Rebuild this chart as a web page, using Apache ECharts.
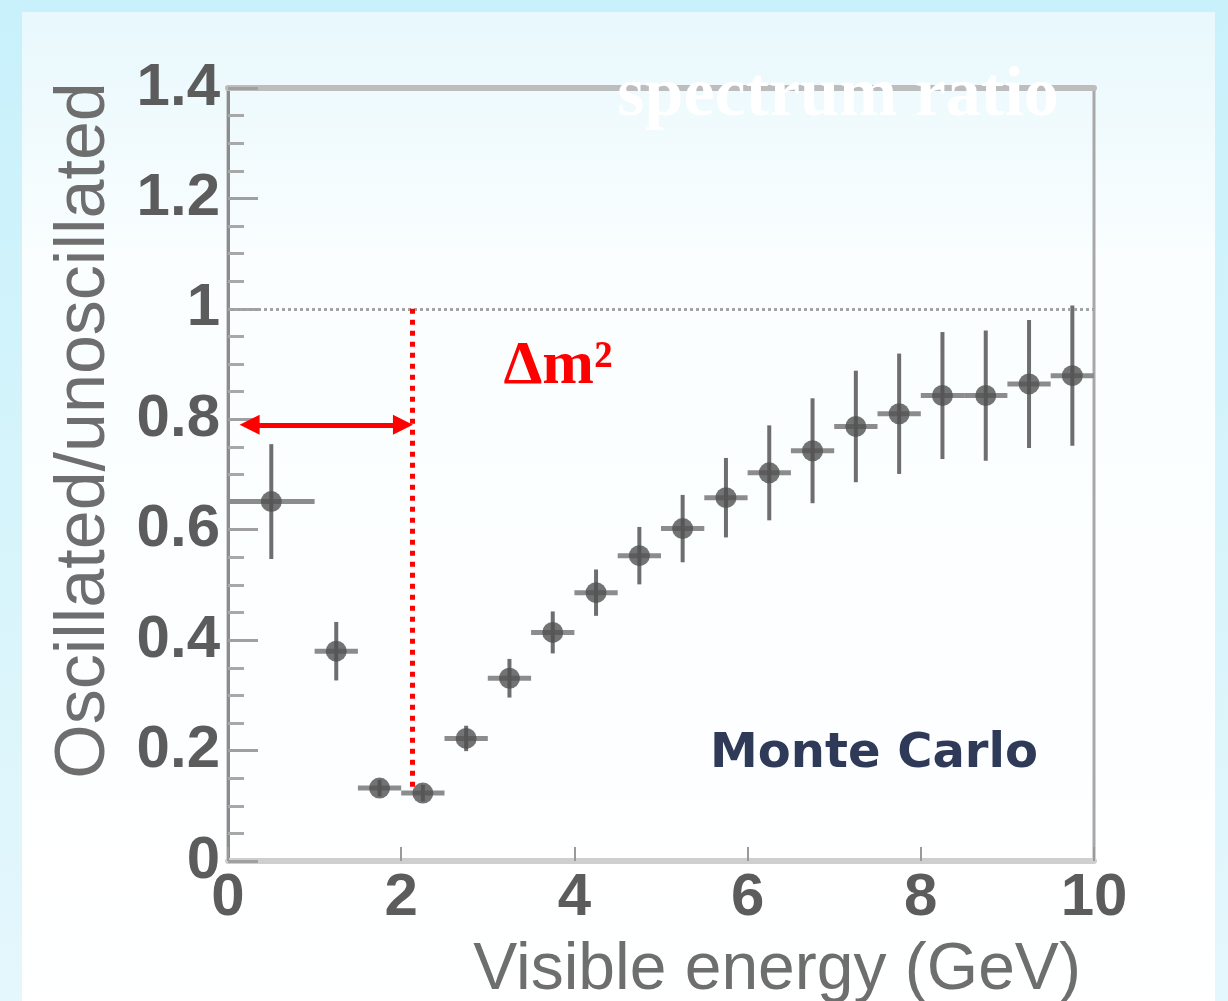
<!DOCTYPE html>
<html>
<head>
<meta charset="utf-8">
<title>Oscillated / unoscillated spectrum ratio</title>
<script src="https://cdn.jsdelivr.net/npm/echarts@6/dist/echarts.min.js"></script>
<style>
  html, body { margin: 0; padding: 0; background: #ffffff; }
  #chart { width: 1228px; height: 1001px; }
</style>
</head>
<body>
<div id="chart"></div>
<script>
// Bin centres of visible energy (GeV)
const energy = [0.5, 1.25, 1.75, 2.25, 2.75, 3.25, 3.75, 4.25, 4.75, 5.25,
                5.75, 6.25, 6.75, 7.25, 7.75, 8.25, 8.75, 9.25, 9.75];
// Half width of each energy bin (GeV)
const binHalfWidth = [0.5, 0.25, 0.25, 0.25, 0.25, 0.25, 0.25, 0.25, 0.25, 0.25,
                      0.25, 0.25, 0.25, 0.25, 0.25, 0.25, 0.25, 0.25, 0.25];
// Oscillated / unoscillated ratio per bin
const ratio = [0.651, 0.380, 0.132, 0.123, 0.222, 0.331, 0.414, 0.486, 0.553, 0.602,
               0.658, 0.703, 0.743, 0.787, 0.810, 0.843, 0.843, 0.864, 0.879];
// Statistical uncertainty on the ratio
const ratioErr = [0.104, 0.053, 0.015, 0.015, 0.023, 0.035, 0.038, 0.042, 0.052, 0.061,
                  0.072, 0.086, 0.095, 0.101, 0.109, 0.115, 0.118, 0.116, 0.127];

// Axis ticks
const xTicks = { min: 0, max: 10, step: 2 };
const yTicks = { min: 0, max: 1.4, step: 0.2 };

// Annotation: oscillation dip position and the Δm² arrow
const dipEnergy = 2.13;
const dipLineRange = [0.125, 1.0];
const arrowLevel = 0.79;
const arrowEnds = [0.25, 2.02];
const noOscillation = 1.0;

const points = energy.map((e, i) => [e, ratio[i], binHalfWidth[i], ratioErr[i]]);

const chart = echarts.init(document.getElementById('chart'), null, { renderer: 'canvas' });

const sansFont = '"Liberation Sans", Arial, sans-serif';
const axisGrey = '#6e6e6e';

chart.setOption({
  animation: false,
  backgroundColor: {
    type: 'linear', x: 0, y: 0, x2: 0, y2: 1,
    colorStops: [
      { offset: 0, color: '#c8f1fb' },
      { offset: 1, color: '#e4f7fc' }
    ]
  },
  graphic: [
    {
      type: 'rect', z: -10,
      shape: { x: 22, y: 12, width: 1193, height: 1000 },
      style: {
        fill: {
          type: 'linear', x: 0, y: 0, x2: 0, y2: 1,
          colorStops: [
            { offset: 0, color: '#e8f8fc' },
            { offset: 0.25, color: '#fafeff' },
            { offset: 1, color: '#ffffff' }
          ]
        }
      }
    },
    {
      type: 'text', z: 50,
      style: {
        text: 'spectrum ratio',
        x: 838, y: 132,
        align: 'center', verticalAlign: 'bottom',
        font: 'bold 70px "Liberation Serif", "Times New Roman", serif',
        fill: '#ffffff'
      }
    },
    {
      type: 'text', z: 50,
      style: {
        text: 'Δm²',
        x: 558, y: 398,
        align: 'center', verticalAlign: 'bottom',
        font: 'bold 62px "Liberation Serif", "Times New Roman", serif',
        fill: '#ff0000'
      }
    },
    {
      type: 'text', z: 50,
      style: {
        text: 'Monte Carlo',
        x: 874, y: 779,
        align: 'center', verticalAlign: 'bottom',
        font: 'bold 48px "DejaVu Sans", Verdana, sans-serif',
        fill: '#2e3a57'
      }
    }
  ],
  grid: {
    left: 228, right: 134, top: 88, bottom: 140,
    outerBoundsMode: 'none',
    containLabel: false,
    show: true,
    backgroundColor: 'transparent',
    borderColor: '#a8a8a8',
    borderWidth: 3
  },
  xAxis: [
    {
      type: 'value',
      min: xTicks.min, max: xTicks.max, interval: xTicks.step,
      name: 'Visible energy (GeV)',
      nameLocation: 'middle',
      nameGap: 77,
      nameTextStyle: {
        fontFamily: sansFont, fontSize: 66, color: axisGrey,
        padding: [0, 0, 0, 232]
      },
      axisLine: { show: true, lineStyle: { color: '#cfcfcf', width: 6 } },
      axisTick: { show: true, inside: true, length: 14, lineStyle: { color: '#9a9a9a', width: 2 } },
      axisLabel: { fontFamily: sansFont, fontSize: 60, fontWeight: 'bold', color: '#5c5c5c', margin: 7 },
      splitLine: { show: false }
    },
    {
      type: 'value', position: 'top',
      min: xTicks.min, max: xTicks.max,
      axisLine: { show: true, lineStyle: { color: '#bdbdbd', width: 6 } },
      axisTick: { show: false }, axisLabel: { show: false }, splitLine: { show: false }
    }
  ],
  yAxis: {
    type: 'value',
    min: yTicks.min, max: yTicks.max, interval: yTicks.step,
    name: 'Oscillated/unoscillated',
    nameLocation: 'middle',
    nameGap: 108,
    nameTextStyle: {
      fontFamily: sansFont, fontSize: 70, color: axisGrey,
      padding: [0, 0, 0, 88]
    },
    axisLine: { show: true, lineStyle: { color: '#8c8c8c', width: 3 } },
    axisTick: { show: true, inside: true, length: 30, lineStyle: { color: '#a0a0a0', width: 3 } },
    minorTick: { show: true, splitNumber: 4, length: 16, lineStyle: { color: '#a8a8a8', width: 3 } },
    axisLabel: { fontFamily: sansFont, fontSize: 60, fontWeight: 'bold', color: '#5c5c5c', margin: 8 },
    splitLine: { show: false }
  },
  series: [
    {
      name: 'errors',
      type: 'custom',
      data: points,
      z: 3,
      renderItem: function (params, api) {
        const x = api.value(0), y = api.value(1), hw = api.value(2), e = api.value(3);
        const left = api.coord([x - hw, y]);
        const right = api.coord([x + hw, y]);
        const top = api.coord([x, y + e]);
        const bottom = api.coord([x, y - e]);
        return {
          type: 'group',
          children: [
            {
              type: 'line',
              shape: { x1: left[0], y1: left[1], x2: right[0], y2: right[1] },
              style: { stroke: '#8c8c8c', lineWidth: 5 }
            },
            {
              type: 'line',
              shape: { x1: top[0], y1: top[1], x2: bottom[0], y2: bottom[1] },
              style: { stroke: '#6e6e6e', lineWidth: 4 }
            }
          ]
        };
      }
    },
    {
      name: 'ratio',
      type: 'scatter',
      data: points.map(p => [p[0], p[1]]),
      symbol: 'circle',
      symbolSize: 21,
      z: 4,
      itemStyle: { color: '#505050' },
      markLine: {
        silent: true,
        animation: false,
        label: { show: false },
        emphasis: { disabled: true },
        data: [
          [
            { coord: [xTicks.min, noOscillation], symbol: 'none', lineStyle: { color: '#a4a4a4', width: 3, type: [3, 3] } },
            { coord: [xTicks.max, noOscillation], symbol: 'none' }
          ],
          [
            { coord: [dipEnergy, dipLineRange[1]], symbol: 'none', lineStyle: { color: '#ff0000', width: 5, type: [5, 6] } },
            { coord: [dipEnergy, dipLineRange[0]], symbol: 'none' }
          ],
          [
            { coord: [arrowEnds[0], arrowLevel], symbol: 'triangle', symbolSize: [20, 20], lineStyle: { color: '#ff0000', width: 5, type: 'solid' }, itemStyle: { color: '#ff0000' } },
            { coord: [arrowEnds[1], arrowLevel], symbol: 'triangle', symbolSize: [20, 20], itemStyle: { color: '#ff0000' } }
          ]
        ]
      }
    }
  ]
});
</script>
</body>
</html>
